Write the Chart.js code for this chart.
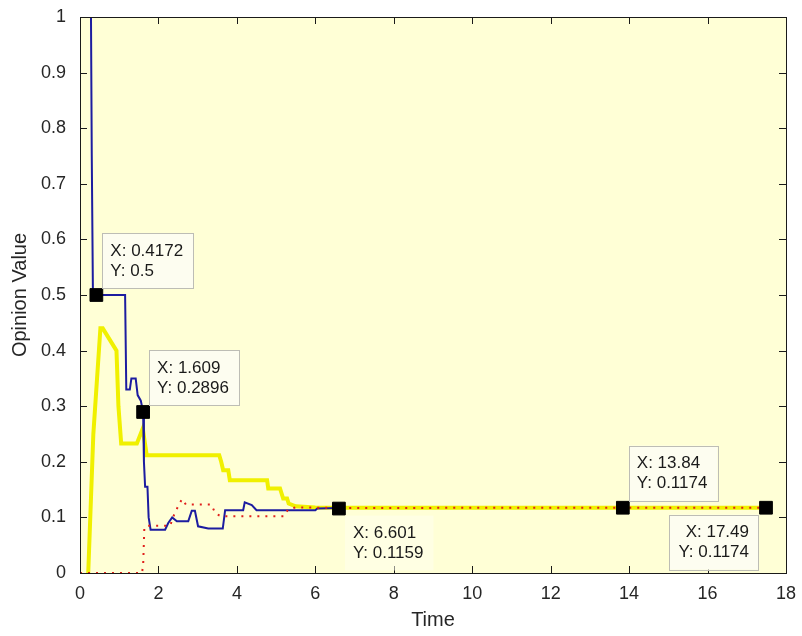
<!DOCTYPE html>
<html>
<head>
<meta charset="utf-8">
<script src="https://cdn.jsdelivr.net/npm/chart.js@4"></script>
<style>
  html, body { margin: 0; padding: 0; background: #fff; }
  #wrap { width: 802px; height: 636px; }
</style>
</head>
<body>
<div id="wrap"><canvas id="opinionChart" width="802" height="636"></canvas></div>
<script>
// opinion traces
const blueX = [0.28, 0.3, 0.33, 0.4172, 1.15, 1.18, 1.27, 1.31, 1.42, 1.47, 1.55, 1.609, 1.63, 1.66, 1.72, 1.75, 1.8, 2.17, 2.25, 2.35, 2.47, 2.76, 2.85, 2.93, 3.01, 3.27, 3.64, 3.7, 4.16, 4.2, 4.38, 4.5, 6.0, 6.05, 6.601];
const blueY = [1.0, 0.75, 0.5, 0.5, 0.5, 0.33, 0.33, 0.35, 0.35, 0.32, 0.31, 0.2896, 0.2, 0.155, 0.155, 0.1, 0.078, 0.078, 0.09, 0.1, 0.093, 0.093, 0.112, 0.112, 0.084, 0.08, 0.08, 0.113, 0.113, 0.127, 0.122, 0.113, 0.113, 0.116, 0.1169];

const yellowX = [0.21, 0.34, 0.52, 0.58, 0.93, 0.98, 1.05, 1.45, 1.6, 1.7, 3.55, 3.6, 3.65, 3.78, 3.82, 4.77, 4.8, 5.1, 5.18, 5.28, 5.32, 5.5, 6.0, 6.601, 13.84, 17.49];
const yellowY = [0, 0.25, 0.44, 0.44, 0.4, 0.3, 0.233, 0.233, 0.26, 0.212, 0.212, 0.2, 0.185, 0.185, 0.167, 0.167, 0.152, 0.152, 0.134, 0.134, 0.125, 0.12, 0.118, 0.1174, 0.1174, 0.1174];

const redX = [0, 1.58, 1.61, 1.64, 1.68, 2.3, 2.37, 2.5, 2.6, 2.7, 3.35, 3.45, 3.6, 5.2, 5.3, 5.5, 6.601, 13.84, 17.49];
const redY = [0, 0, 0.014, 0.08, 0.085, 0.085, 0.1, 0.12, 0.133, 0.123, 0.123, 0.107, 0.102, 0.102, 0.114, 0.118, 0.117, 0.1174, 0.1174];

// data cursor tips
const tipX = [0.4172, 1.609, 6.601, 13.84, 17.49];
const tipY = [0.5, 0.2896, 0.1159, 0.1174, 0.1174];
const tipSide = ['ne', 'ne', 'se', 'ne', 'sw'];

const xTicks = [0, 2, 4, 6, 8, 10, 12, 14, 16, 18];
const yTicks = [0, 0.1, 0.2, 0.3, 0.4, 0.5, 0.6, 0.7, 0.8, 0.9, 1];

const pts = (xs, ys) => xs.map((x, i) => ({ x: x, y: ys[i] }));

const bgPlugin = {
    id: 'bg',
    beforeDraw(chart) {
        const { ctx, chartArea: a } = chart;
        ctx.save();
        ctx.fillStyle = '#ffffff';
        ctx.fillRect(0, 0, chart.width, chart.height);
        ctx.fillStyle = '#ffffd6';
        ctx.fillRect(a.left, a.top, a.right - a.left, a.bottom - a.top);
        ctx.restore();
    }
};

// matlab style box with ticks pointing inward on all four sides
const framePlugin = {
    id: 'frame',
    afterDatasetsDraw(chart) {
        const { ctx, chartArea: a, scales } = chart;
        const len = 7;
        ctx.save();
        ctx.strokeStyle = '#1a1a1a';
        ctx.lineWidth = 1;
        ctx.beginPath();
        xTicks.forEach(v => {
            const px = Math.round(scales.x.getPixelForValue(v)) + 0.5;
            ctx.moveTo(px, a.bottom); ctx.lineTo(px, a.bottom - len);
            ctx.moveTo(px, a.top); ctx.lineTo(px, a.top + len);
        });
        yTicks.forEach(v => {
            const py = Math.round(scales.y.getPixelForValue(v)) + 0.5;
            ctx.moveTo(a.left, py); ctx.lineTo(a.left + len, py);
            ctx.moveTo(a.right, py); ctx.lineTo(a.right - len, py);
        });
        ctx.stroke();
        ctx.strokeRect(Math.round(a.left) + 0.5, Math.round(a.top) + 0.5, Math.round(a.right - a.left), Math.round(a.bottom - a.top));
        ctx.restore();
    }
};

const tipPlugin = {
    id: 'tips',
    afterDraw(chart) {
        const { ctx, scales } = chart;
        ctx.save();
        ctx.font = '17px "Liberation Sans", Arial, sans-serif';
        ctx.textBaseline = 'middle';
        tipX.forEach((xv, i) => {
            const px = scales.x.getPixelForValue(xv);
            const py = scales.y.getPixelForValue(tipY[i]);
            const l1 = 'X: ' + xv, l2 = 'Y: ' + tipY[i];
            const w = Math.max(ctx.measureText(l1).width, ctx.measureText(l2).width) + 18;
            const h = 55;
            const side = tipSide[i];
            const bx = side.includes('w') ? px - 8 - w : px + 6;
            const by = side.includes('s') ? py + 7 : py - 7 - h;
            if (side === 'se') {
                ctx.fillStyle = 'rgba(255,255,240,0.5)';
                ctx.fillRect(bx, by, w, h);
            } else {
                ctx.fillStyle = '#fdfdf0';
                ctx.fillRect(bx, by, w, h);
                ctx.strokeStyle = '#bdbdb5';
                ctx.lineWidth = 1;
                ctx.strokeRect(Math.round(bx) + 0.5, Math.round(by) + 0.5, Math.round(w), h);
            }
            ctx.fillStyle = '#1a1a1a';
            if (side === 'sw') {
                ctx.textAlign = 'right';
                ctx.fillText(l1, bx + w - 9, by + 18);
                ctx.fillText(l2, bx + w - 9, by + 38);
            } else {
                ctx.textAlign = 'left';
                ctx.fillText(l1, bx + 8, by + 18);
                ctx.fillText(l2, bx + 8, by + 38);
            }
        });
        ctx.restore();
    }
};

const tickFont = { family: '"Liberation Sans", Arial, sans-serif', size: 18 };
const titleFont = { family: '"Liberation Sans", Arial, sans-serif', size: 20 };

new Chart(document.getElementById('opinionChart').getContext('2d'), {
    type: 'line',
    data: {
        datasets: [
            {
                type: 'scatter',
                data: pts(tipX, tipY),
                pointStyle: 'rect',
                pointRadius: 9,
                backgroundColor: '#000',
                borderColor: '#000',
                showLine: false,
                order: 0
            },
            {
                data: pts(redX, redY),
                borderColor: '#e0201c',
                borderWidth: 2,
                borderDash: [2, 6],
                pointRadius: 0,
                tension: 0,
                order: 1
            },
            {
                data: pts(blueX, blueY),
                borderColor: '#1c1ca0',
                borderWidth: 2,
                pointRadius: 0,
                tension: 0,
                order: 2
            },
            {
                data: pts(yellowX, yellowY),
                borderColor: '#f0f000',
                borderWidth: 4,
                pointRadius: 0,
                tension: 0,
                order: 3
            }
        ]
    },
    options: {
        responsive: false,
        animation: false,
        events: [],
        layout: { padding: { top: 17, right: 16, left: 0, bottom: 0 } },
        plugins: { legend: { display: false }, tooltip: { enabled: false } },
        scales: {
            x: {
                type: 'linear',
                min: 0,
                max: 18,
                grid: { display: false, drawTicks: false },
                border: { display: false },
                ticks: { stepSize: 2, font: tickFont, color: '#262626', padding: 10, maxRotation: 0 },
                title: { display: true, text: 'Time', font: titleFont, color: '#262626', padding: { top: 0, bottom: 4 } },
                afterFit(scale) {
                    scale.height = 63;
                    scale.paddingLeft = 0;
                    scale.paddingRight = 0;
                }
            },
            y: {
                type: 'linear',
                min: 0,
                max: 1,
                grid: { display: false, drawTicks: false },
                border: { display: false },
                ticks: {
                    stepSize: 0.1, font: tickFont, color: '#262626', padding: 14,
                    callback: v => String(Math.round(v * 10) / 10)
                },
                title: { display: true, text: 'Opinion Value', font: titleFont, color: '#262626', padding: { top: 8, bottom: 0 } },
                afterFit(scale) {
                    scale.width = 80;
                    scale.paddingTop = 0;
                    scale.paddingBottom = 0;
                }
            }
        }
    },
    plugins: [bgPlugin, framePlugin, tipPlugin]
});
</script>
</body>
</html>
